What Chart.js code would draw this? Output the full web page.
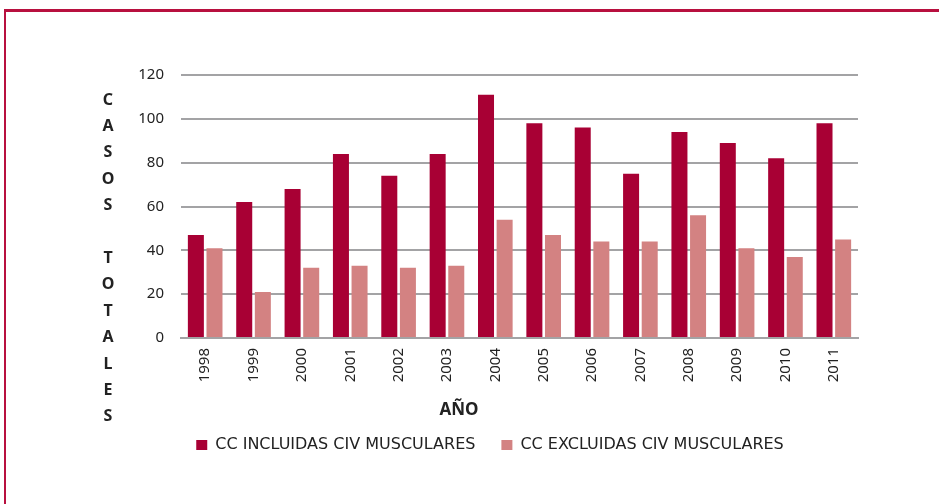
<!DOCTYPE html>
<html>
<head>
<meta charset="utf-8">
<script src="https://cdn.jsdelivr.net/npm/chart.js@4.4.0/dist/chart.umd.min.js"></script>
<style>
  html, body { margin: 0; padding: 0; background: #fff; }
  #wrap { position: relative; width: 939px; height: 504px; overflow: hidden; }
  #marco { position: absolute; left: 4px; top: 9px; width: 1000px; height: 600px;
           border-top: 3px solid #B8103F; border-left: 2px solid #B8103F; }
  #grafico { position: absolute; left: 0; top: 0; }
</style>
</head>
<body>
<div id="wrap">
  <div id="marco"></div>
  <canvas id="grafico" width="939" height="504"></canvas>
</div>
<script>
const anios = ['1998', '1999', '2000', '2001', '2002', '2003', '2004', '2005', '2006', '2007', '2008', '2009', '2010', '2011'];
const incluidas = [47, 62, 68, 84, 74, 84, 111, 98, 96, 75, 94, 89, 82, 98];
const excluidas = [41, 21, 32, 33, 32, 33, 54, 47, 44, 44, 56, 41, 37, 45];
const ticksY = [0, 20, 40, 60, 80, 100, 120];
const tituloY = 'CASOS TOTALES';
const tituloX = 'AÑO';

const fuente = "'Noto Sans', 'Open Sans', sans-serif";
const fuenteLeyenda = "'DejaVu Sans', sans-serif";
const colorTexto = '#222';
const colorGrid = '#A3A3A5';

// titulos de ejes: letras apiladas para el eje Y, AÑO debajo de los años
const titulos = {
    id: 'titulos',
    afterDraw(chart) {
        const ctx = chart.ctx;
        ctx.save();
        ctx.fillStyle = colorTexto;
        ctx.font = 'bold 16px ' + fuente;
        ctx.textAlign = 'center';
        ctx.textBaseline = 'middle';
        const letras = tituloY.split('');
        letras.forEach((l, i) => {
            if (l !== ' ') ctx.fillText(l, 108, 100 + i * 26.4);
        });
        ctx.font = 'bold 17px ' + fuente;
        ctx.fillText(tituloX, 459, 410);
        ctx.restore();
    }
};

const ctx = document.getElementById('grafico').getContext('2d');
const chart = new Chart(ctx, {
    type: 'bar',
    data: {
        labels: anios,
        datasets: [{
            label: 'CC INCLUIDAS CIV MUSCULARES',
            data: incluidas,
            backgroundColor: '#A80034',
            categoryPercentage: 0.77,
            barPercentage: 0.86
        }, {
            label: 'CC EXCLUIDAS CIV MUSCULARES',
            data: excluidas,
            backgroundColor: '#D38282',
            categoryPercentage: 0.77,
            barPercentage: 0.86
        }]
    },
    options: {
        responsive: false,
        animation: false,
        layout: { padding: { left: 122, right: 81, top: 75, bottom: 41 } },
        plugins: {
            tooltip: { enabled: false },
            legend: {
                position: 'bottom',
                labels: {
                    boxWidth: 11,
                    boxHeight: 10,
                    padding: 26,
                    color: colorTexto,
                    font: { family: fuenteLeyenda, size: 16 }
                }
            }
        },
        scales: {
            x: {
                afterFit: (s) => { s.height = 73; },
                grid: { display: false, drawTicks: false },
                border: { display: true, color: colorGrid, width: 2 },
                ticks: {
                    autoSkip: false,
                    minRotation: 90,
                    maxRotation: 90,
                    padding: 10,
                    color: colorTexto,
                    font: { family: fuente, size: 15 }
                }
            },
            y: {
                min: 0,
                max: 120,
                afterFit: (s) => { s.width = 59; },
                afterBuildTicks: (s) => { s.ticks = ticksY.map(v => ({ value: v })); },
                grid: { color: colorGrid, lineWidth: 2, drawTicks: false },
                border: { display: false },
                ticks: {
                    padding: 17,
                    color: colorTexto,
                    font: { family: fuente, size: 15 }
                }
            }
        }
    },
    plugins: [titulos]
});
</script>
</body>
</html>
